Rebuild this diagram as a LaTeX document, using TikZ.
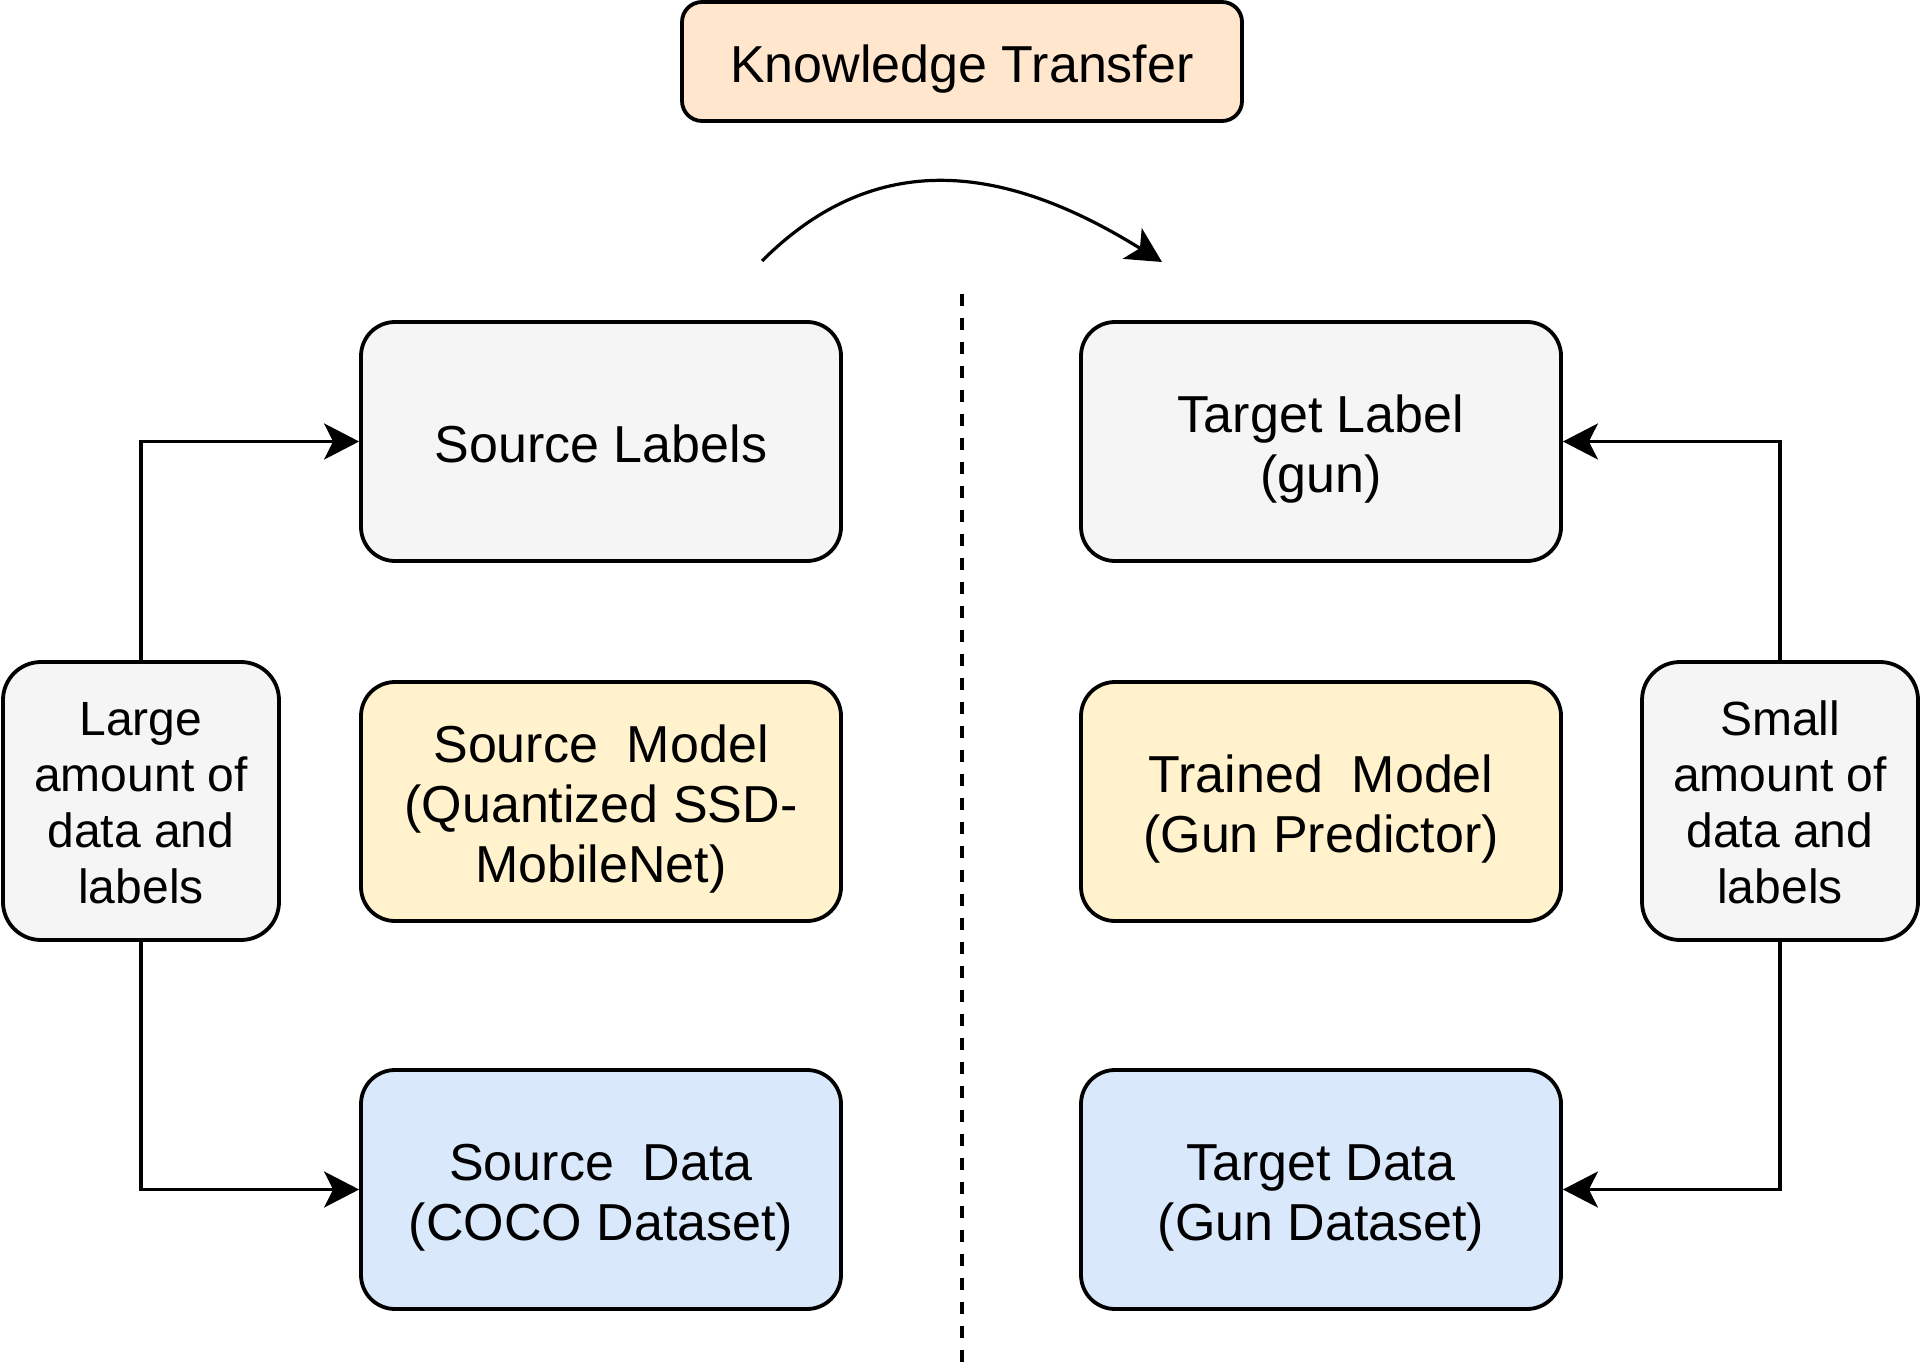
\documentclass[tikz,border=0pt]{standalone}
\usepackage{fontspec}
\setmainfont{Liberation Sans}
\usetikzlibrary{arrows.meta}
\definecolor{grayfill}{HTML}{F5F5F5}
\definecolor{yellowfill}{HTML}{FFF2CC}
\definecolor{bluefill}{HTML}{DAE8FC}
\definecolor{orangefill}{HTML}{FFE6CC}
% line struts so that text is centred on fixed line boxes
\newcommand{\mstr}{\rule[-6.5pt]{0pt}{34pt}}
\newcommand{\sstr}{\rule[-6pt]{0pt}{30pt}}
\setlength{\lineskiplimit}{-1000pt}
\begin{document}
\begin{tikzpicture}[x=0.5pt,y=-0.5pt,
  box/.style={draw=black, line width=1.9pt, rounded corners=17pt,
    minimum width=240pt, minimum height=119.5pt, align=center,
    font=\fontsize{26}{30}\selectfont, inner sep=0pt},
  sidebox/.style={draw=black, line width=1.9pt, rounded corners=19pt,
    fill=grayfill, minimum width=138pt, minimum height=139pt, align=center,
    font=\fontsize{24}{28}\selectfont, inner sep=0pt},
  conn/.style={line width=1.6pt, -{Stealth[length=17.5pt,width=18pt,inset=4.5pt]}},
  divider/.style={line width=1.6pt, dash pattern=on 6pt off 6pt}]
\useasboundingbox (0,0) rectangle (1920,1368);

\node[box, fill=orangefill, minimum width=280pt, minimum height=59.5pt, rounded corners=10pt] (kt) at (962,61.5) {\mstr Knowledge Transfer};

\node[box, fill=grayfill] (sl) at (601,441.5) {\mstr Source Labels};
\node[box, fill=yellowfill] (sm) at (601,801.5) {\mstr Source\ \ Model\\\mstr (Quantized SSD-\\\mstr MobileNet)};
\node[box, fill=bluefill] (sd) at (601,1189.5) {\mstr Source\ \ Data\\\mstr (COCO Dataset)};

\node[box, fill=grayfill] (tl) at (1321,441.5) {\mstr Target Label\\\mstr (gun)};
\node[box, fill=yellowfill] (tm) at (1321,801.5) {\mstr Trained\ \ Model\\\mstr (Gun Predictor)};
\node[box, fill=bluefill] (td) at (1321,1189.5) {\mstr Target Data\\\mstr (Gun Dataset)};

\node[sidebox] (large) at (141,801) {\sstr Large\\\sstr amount of\\\sstr data and\\\sstr labels};
\node[sidebox] (small) at (1780,801) {\sstr Small\\\sstr amount of\\\sstr data and\\\sstr labels};

\draw[conn] (large.north) |- (sl.west);
\draw[conn] (large.south) |- (sd.west);
\draw[conn] (small.north) |- (tl.east);
\draw[conn] (small.south) |- (td.east);

\coordinate (cs) at (762,261);
\coordinate (ce) at (1162,262);
\draw[conn] (cs) .. controls (870,153) and (995,158) .. (ce);

\coordinate (dt) at (962,294);
\coordinate (db) at (962,1368);
\draw[divider] (dt) -- (db);
\end{tikzpicture}
\end{document}
